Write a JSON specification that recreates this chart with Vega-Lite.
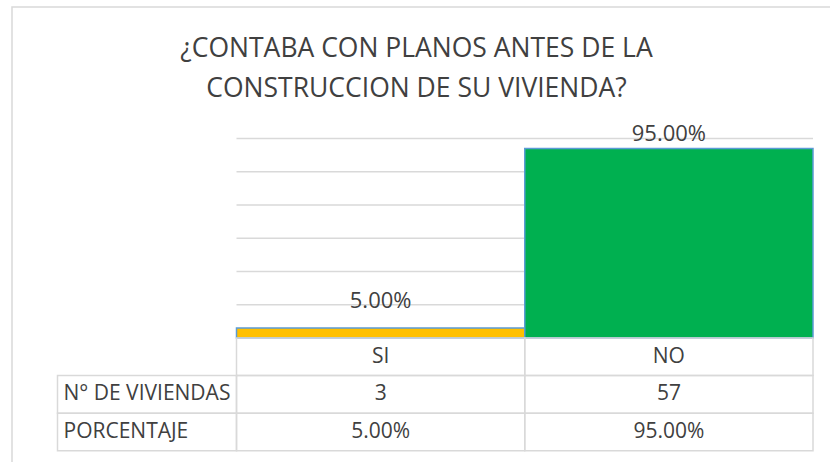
{
  "$schema": "https://vega.github.io/schema/vega-lite/v6.json",
  "width": 819,
  "height": 456,
  "autosize": {"type": "none"},
  "padding": {"left": 12, "top": 7, "right": 0, "bottom": 0},
  "background": "white",
  "config": {"view": {"stroke": "#d9d9d9", "strokeWidth": 1.5}, "font": "Open Sans"},
  "title": {
    "text": ["¿CONTABA CON PLANOS ANTES DE LA", "CONSTRUCCION DE SU VIVIENDA?"],
    "fontSize": 26.5,
    "font": "Open Sans",
    "fontWeight": "normal",
    "color": "#404040",
    "anchor": "middle",
    "frame": "group",
    "offset": -95,
    "dx": -5,
    "lineHeight": 40
  },
  "datasets": {
    "barras": [
      {"respuesta": "SI", "viviendas": 3, "porcentaje": "5.00%"},
      {"respuesta": "NO", "viviendas": 57, "porcentaje": "95.00%"}
    ],
    "tabla": [
      {"fila": "encabezado", "respuesta": "SI", "texto": "SI"},
      {"fila": "encabezado", "respuesta": "NO", "texto": "NO"},
      {"fila": "N° DE VIVIENDAS", "respuesta": "SI", "texto": "3"},
      {"fila": "N° DE VIVIENDAS", "respuesta": "NO", "texto": "57"},
      {"fila": "PORCENTAJE", "respuesta": "SI", "texto": "5.00%"},
      {"fila": "PORCENTAJE", "respuesta": "NO", "texto": "95.00%"}
    ],
    "filas": [
      {"fila": "N° DE VIVIENDAS"},
      {"fila": "PORCENTAJE"}
    ],
    "rejilla": [
      {"v": 10}, {"v": 20}, {"v": 30}, {"v": 40}, {"v": 50}, {"v": 60}
    ]
  },
  "layer": [
    {
      "data": {"name": "rejilla"},
      "mark": {"type": "rule", "color": "#d9d9d9", "strokeWidth": 1.5},
      "encoding": {
        "y": {"field": "v", "type": "quantitative", "scale": {"domain": [0, 60], "range": [331, 131.5], "nice": false}, "axis": null},
        "x": {"datum": 0, "type": "quantitative", "scale": {"domain": [0, 1], "range": [224.5, 801]}, "axis": null},
        "x2": {"datum": 1}
      }
    },
    {
      "data": {"name": "barras"},
      "encoding": {
        "x": {"field": "respuesta", "type": "nominal", "sort": ["SI", "NO"], "scale": {"domain": ["SI", "NO"], "range": [224.5, 801], "paddingInner": 0, "paddingOuter": 0}, "axis": null},
        "y": {"field": "viviendas", "type": "quantitative", "scale": {"domain": [0, 60], "range": [331, 131.5], "nice": false}, "axis": null}
      },
      "layer": [
        {
          "mark": {"type": "bar", "stroke": "#5B9BD5", "strokeWidth": 1.5},
          "encoding": {
            "color": {"field": "respuesta", "type": "nominal", "scale": {"domain": ["SI", "NO"], "range": ["#FFC000", "#00B050"]}, "legend": null}
          }
        },
        {
          "transform": [{"filter": "datum.respuesta == 'SI'"}],
          "mark": {"type": "text", "dy": -20, "baseline": "alphabetic", "fontSize": 22, "color": "#404040"},
          "encoding": {"text": {"field": "porcentaje"}}
        },
        {
          "transform": [{"filter": "datum.respuesta == 'NO'"}],
          "mark": {"type": "text", "dy": -7, "baseline": "alphabetic", "fontSize": 22, "color": "#404040"},
          "encoding": {"text": {"field": "porcentaje"}}
        }
      ]
    },
    {
      "data": {"name": "tabla"},
      "encoding": {
        "x": {"field": "respuesta", "type": "nominal", "scale": {"domain": ["SI", "NO"], "range": [224.5, 801], "paddingInner": 0, "paddingOuter": 0}, "axis": null},
        "y": {"field": "fila", "type": "nominal", "scale": {"domain": ["encabezado", "N° DE VIVIENDAS", "PORCENTAJE"], "range": [331, 443.7], "paddingInner": 0, "paddingOuter": 0}, "axis": null}
      },
      "layer": [
        {"mark": {"type": "rect", "fill": "transparent", "stroke": "#d9d9d9", "strokeWidth": 1.5}},
        {"mark": {"type": "text", "fontSize": 21, "color": "#404040", "baseline": "middle"}, "encoding": {"text": {"field": "texto"}}}
      ]
    },
    {
      "data": {"name": "filas"},
      "encoding": {
        "x": {"datum": 0, "type": "quantitative", "scale": {"domain": [0, 1], "range": [45.5, 224.5]}, "axis": null},
        "y": {"field": "fila", "type": "nominal", "scale": {"domain": ["encabezado", "N° DE VIVIENDAS", "PORCENTAJE"], "range": [331, 443.7], "paddingInner": 0, "paddingOuter": 0}, "axis": null}
      },
      "layer": [
        {"mark": {"type": "rect", "fill": "transparent", "stroke": "#d9d9d9", "strokeWidth": 1.5}, "encoding": {"x2": {"datum": 1}}},
        {"mark": {"type": "text", "fontSize": 21, "color": "#404040", "baseline": "middle", "align": "left", "dx": 6}, "encoding": {"text": {"field": "fila"}}}
      ]
    }
  ],
  "resolve": {"scale": {"x": "independent", "y": "independent", "color": "independent"}}
}
